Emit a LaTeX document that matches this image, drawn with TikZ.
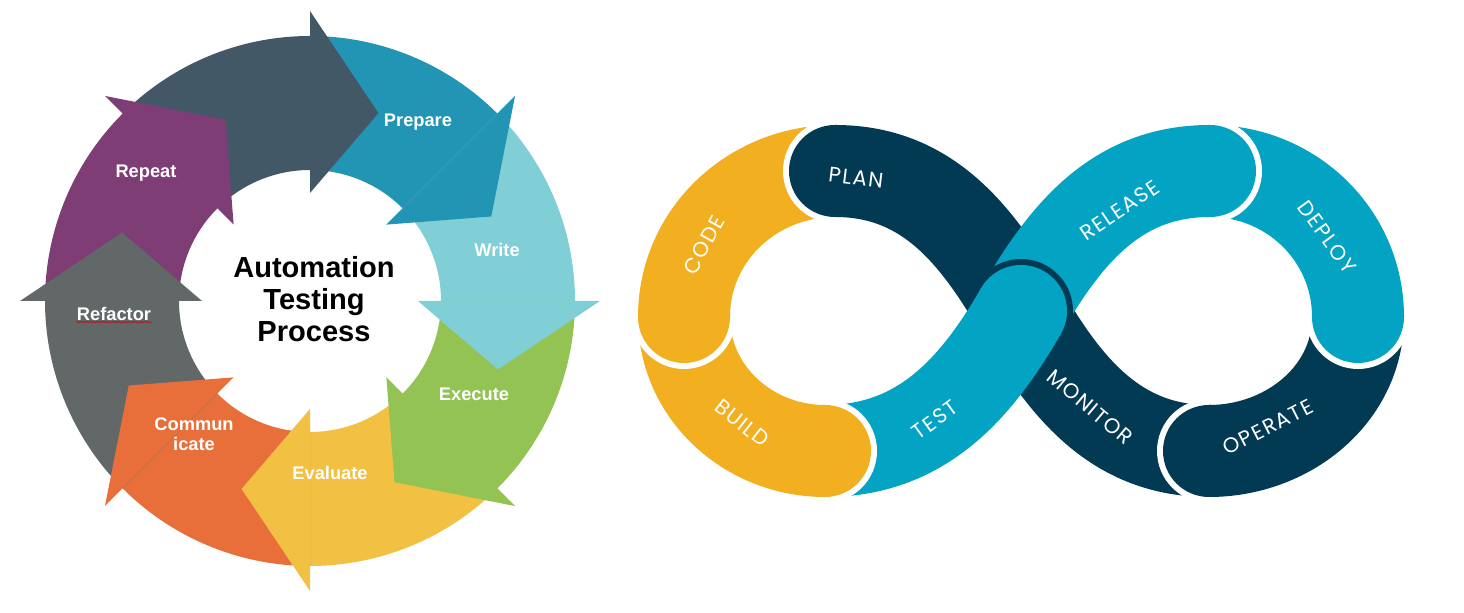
\documentclass[tikz,border=0pt]{standalone}
\usepackage{fontspec}
\setmainfont{Liberation Sans}
\newfontfamily\stagefont[LetterSpace=7]{Poppins}
\usetikzlibrary{decorations.pathmorphing}

\definecolor{slate}{HTML}{435867}
\definecolor{prepblue}{HTML}{2294B4}
\definecolor{writecyan}{HTML}{80CFD7}
\definecolor{execgreen}{HTML}{93C353}
\definecolor{evalyellow}{HTML}{F2C144}
\definecolor{commorange}{HTML}{E86F3A}
\definecolor{refgray}{HTML}{626868}
\definecolor{reppurple}{HTML}{7E3D75}
\definecolor{opsgold}{HTML}{F2AF1F}
\definecolor{opsnavy}{HTML}{023A53}
\definecolor{opsteal}{HTML}{02A3C3}

\begin{document}
\begin{tikzpicture}[x=0.75pt,y=0.75pt,
    phase/.style={text=white,font=\bfseries\fontsize{13.7}{15}\selectfont,align=center},
    band/.style={line width=69pt},
    stage/.style={text=white,font=\stagefont\fontsize{15.8}{16}\selectfont,inner sep=1pt}]
\useasboundingbox (0,0) rectangle (1464,613);

% testing cycle
\begin{scope}[shift={(310,312)}]
\fill[slate] (135:265) arc[start angle=135,end angle=88,radius=265] -- (88:131) arc[start angle=88,end angle=135,radius=131] -- cycle;
\fill[prepblue] (90:265) arc[start angle=90,end angle=43,radius=265] -- (43:131) arc[start angle=43,end angle=90,radius=131] -- cycle;
\fill[writecyan] (45:265) arc[start angle=45,end angle=-2,radius=265] -- (-2:131) arc[start angle=-2,end angle=45,radius=131] -- cycle;
\fill[execgreen] (0:265) arc[start angle=0,end angle=-47,radius=265] -- (-47:131) arc[start angle=-47,end angle=0,radius=131] -- cycle;
\fill[evalyellow] (-45:265) arc[start angle=-45,end angle=-92,radius=265] -- (-92:131) arc[start angle=-92,end angle=-45,radius=131] -- cycle;
\fill[commorange] (-90:265) arc[start angle=-90,end angle=-137,radius=265] -- (-137:131) arc[start angle=-137,end angle=-90,radius=131] -- cycle;
\fill[refgray] (-135:265) arc[start angle=-135,end angle=-182,radius=265] -- (-182:131) arc[start angle=-182,end angle=-135,radius=131] -- cycle;
\fill[reppurple] (-180:265) arc[start angle=-180,end angle=-227,radius=265] -- (-227:131) arc[start angle=-227,end angle=-180,radius=131] -- cycle;

\fill[slate] (90:290) -- (70:200) -- (90:108) -- cycle;
\fill[prepblue] (45:290) -- (25:200) -- (45:108) -- cycle;
\fill[writecyan] (0:290) -- (-20:200) -- (0:108) -- cycle;
\fill[execgreen] (-45:290) -- (-65:200) -- (-45:108) -- cycle;
\fill[evalyellow] (-90:290) -- (-110:200) -- (-90:108) -- cycle;
\fill[commorange] (-135:290) -- (-155:200) -- (-135:108) -- cycle;
\fill[refgray] (180:290) -- (160:200) -- (180:108) -- cycle;
\fill[reppurple] (135:290) -- (115:200) -- (135:108) -- cycle;
\end{scope}

\node[phase] (prepare) at (418,491) {Prepare};
\node[phase] (write) at (497,363) {Write};
\node[phase] (execute) at (474,219) {Execute};
\node[phase] (evaluate) at (330,140) {Evaluate};
\node[phase] (communicate) at (194,179) {Commun\\icate};
\node[phase] (refactor) at (114,299) {Refactor};
\node[phase] (repeat) at (146,440) {Repeat};
\draw[red!80!black,line width=0.4pt,decorate,decoration={snake,amplitude=0.6pt,segment length=2.4pt}]
    ([xshift=3pt,yshift=2.5pt]refactor.south west) -- ([xshift=-3pt,yshift=2.5pt]refactor.south east);
\node[font=\bfseries\fontsize{21.8}{24}\selectfont,align=center] (title) at (314,314) {Automation\\Testing\\Process};

% devops loop
\coordinate (c) at (1021,302);
\coordinate (t1) at (835,442);
\coordinate (l1) at (684,296);
\coordinate (b1) at (825,162);
\coordinate (t2) at (1210,442);
\coordinate (r2) at (1358,296);
\coordinate (b2) at (1209,162);

\draw[band,opsnavy](t1) to[out=0,in=120] (c) to[out=-60,in=180] (b2);
\draw[band,opsgold](t1) to[out=180,in=90] (l1);
\draw[band,opsgold](l1) to[out=-90,in=180] (b1);
\draw[band,opsteal](c) to[out=60,in=180] (t2);
\draw[band,opsteal](t2) to[out=0,in=90] (r2);
\draw[band,opsnavy](r2) to[out=-90,in=0] (b2);
\draw[band,opsteal](b1) to[out=0,in=240] (c);

\fill[white] (t1) ++(270:52) arc[start angle=270,end angle=90,radius=52] -- cycle;
\fill[opsnavy] (t1) ++(270:46) arc[start angle=270,end angle=90,radius=46] -- ++(0:2) -- ++(270:92) -- cycle;
\fill[white] (l1) ++(0:52) arc[start angle=0,end angle=-180,radius=52] -- cycle;
\fill[opsgold] (l1) ++(0:46) arc[start angle=0,end angle=-180,radius=46] -- ++(90:2) -- ++(0:92) -- cycle;
\fill[white] (b1) ++(90:52) arc[start angle=90,end angle=-90,radius=52] -- cycle;
\fill[opsgold] (b1) ++(90:46) arc[start angle=90,end angle=-90,radius=46] -- ++(180:2) -- ++(90:92) -- cycle;
\fill[opsnavy] (c) ++(150:52) arc[start angle=150,end angle=-30,radius=52] -- cycle;
\fill[opsteal] (c) ++(150:46) arc[start angle=150,end angle=-30,radius=46] -- ++(240:2) -- ++(150:92) -- cycle;
\fill[white] (t2) ++(90:52) arc[start angle=90,end angle=-90,radius=52] -- cycle;
\fill[opsteal] (t2) ++(90:46) arc[start angle=90,end angle=-90,radius=46] -- ++(180:2) -- ++(90:92) -- cycle;
\fill[white] (r2) ++(0:52) arc[start angle=0,end angle=-180,radius=52] -- cycle;
\fill[opsteal] (r2) ++(0:46) arc[start angle=0,end angle=-180,radius=46] -- ++(90:2) -- ++(0:92) -- cycle;
\fill[white] (b2) ++(270:52) arc[start angle=270,end angle=90,radius=52] -- cycle;
\fill[opsnavy] (b2) ++(270:46) arc[start angle=270,end angle=90,radius=46] -- ++(0:2) -- ++(270:92) -- cycle;

\node[stage,rotate=-7] (plan) at (856,435) {PLAN};
\node[stage,rotate=61] (code) at (704,368) {CODE};
\node[stage,rotate=-38] (build) at (742,190) {BUILD};
\node[stage,rotate=36] (test) at (935,193) {TEST};
\node[stage,rotate=34] (release) at (1120,403) {RELEASE};
\node[stage,rotate=-54] (deploy) at (1327,376) {DEPLOY};
\node[stage,rotate=27] (operate) at (1268,186) {OPERATE};
\node[stage,rotate=-40] (monitor) at (1090,206) {MONITOR};
\end{tikzpicture}
\end{document}
